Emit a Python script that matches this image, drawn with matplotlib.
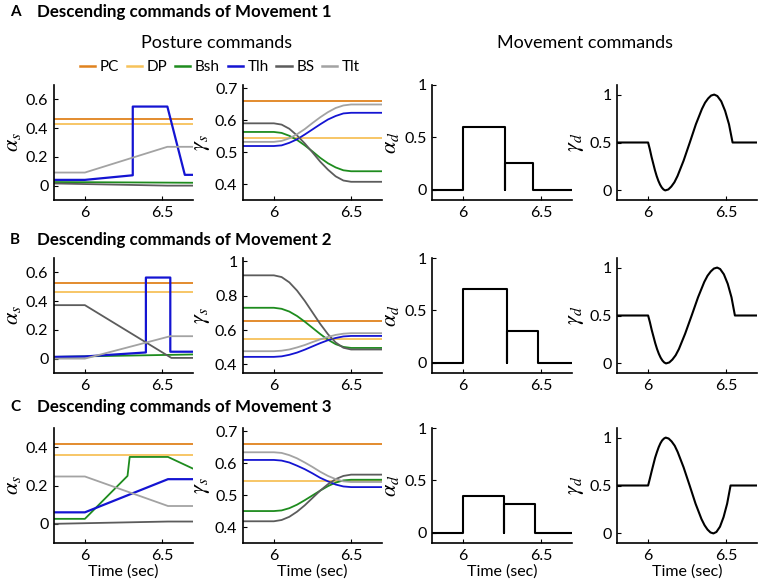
import matplotlib.pyplot as plt
from matplotlib.ticker import FuncFormatter
from matplotlib.lines import Line2D

plt.rcParams['font.family'] = ['Lato', 'DejaVu Sans']
plt.rcParams['mathtext.fontset'] = 'stix'

NAMES = ['PC', 'DP', 'Bsh', 'Tlh', 'BS', 'Tlt']
COLORS = {'PC': '#e0821e', 'DP': '#f7c25a', 'Bsh': '#1e8c1e',
          'Tlh': '#1414d2', 'BS': '#5c5c5c', 'Tlt': '#a3a3a3'}

TITLES = ['Descending commands of Movement 1',
          'Descending commands of Movement 2',
          'Descending commands of Movement 3']
PANEL_LETTERS = ['A', 'B', 'C']

T_EDGE = [5.8, 6.7]

# ---- alpha_s (posture, static) ----
M1_AS = {
    'PC': (T_EDGE, [0.465, 0.465]),
    'DP': (T_EDGE, [0.428, 0.428]),
    'Bsh': (T_EDGE, [0.025, 0.02]),
    'Tlh': ([5.8, 6.0, 6.31, 6.31, 6.534, 6.647, 6.7], [0.04, 0.04, 0.072, 0.55, 0.55, 0.075, 0.075]),
    'BS': ([5.8, 6.534, 6.7], [0.015, 0.0, 0.0]),
    'Tlt': ([5.8, 6.0, 6.534, 6.7], [0.091, 0.091, 0.27, 0.27]),
}
M2_AS = {
    'PC': (T_EDGE, [0.528, 0.528]),
    'DP': (T_EDGE, [0.461, 0.461]),
    'Bsh': (T_EDGE, [0.012, 0.029]),
    'Tlh': ([5.8, 6.0, 6.395, 6.395, 6.553, 6.553, 6.7], [0.012, 0.015, 0.043, 0.564, 0.564, 0.048, 0.048]),
    'BS': ([5.8, 6.0, 6.56, 6.7], [0.372, 0.372, 0.005, 0.005]),
    'Tlt': ([5.8, 6.0, 6.553, 6.7], [0.0, 0.0, 0.156, 0.156]),
}
M3_AS = {
    'PC': (T_EDGE, [0.417, 0.417]),
    'DP': (T_EDGE, [0.357, 0.357]),
    'Bsh': ([5.8, 6.0, 6.276, 6.29, 6.538, 6.7], [0.026, 0.026, 0.25, 0.349, 0.349, 0.288]),
    'Tlh': ([5.8, 6.0, 6.538, 6.7], [0.06, 0.06, 0.233, 0.233]),
    'BS': ([5.8, 6.538, 6.7], [0.0, 0.012, 0.012]),
    'Tlt': ([5.8, 6.0, 6.538, 6.7], [0.247, 0.247, 0.093, 0.093]),
}

# ---- gamma_s (posture, dynamic) ----
GS_T = [5.8, 6.0, 6.05, 6.1, 6.15, 6.2, 6.25, 6.3, 6.35, 6.4, 6.45, 6.5, 6.7]
M1_GS = {
    'PC': (T_EDGE, [0.66, 0.66]),
    'DP': (T_EDGE, [0.543, 0.543]),
    'Bsh': (GS_T, [0.563, 0.563, 0.560, 0.551, 0.538, 0.521, 0.502, 0.482, 0.465, 0.452, 0.443, 0.44, 0.44]),
    'Tlh': (GS_T, [0.519, 0.519, 0.521, 0.529, 0.540, 0.555, 0.571, 0.587, 0.602, 0.613, 0.621, 0.623, 0.623]),
    'BS': (GS_T, [0.59, 0.59, 0.586, 0.573, 0.552, 0.527, 0.499, 0.470, 0.445, 0.424, 0.411, 0.407, 0.407]),
    'Tlt': (GS_T, [0.532, 0.532, 0.535, 0.543, 0.556, 0.572, 0.591, 0.609, 0.625, 0.638, 0.646, 0.649, 0.649]),
}
M2_GS = {
    'PC': (T_EDGE, [0.652, 0.652]),
    'DP': (T_EDGE, [0.547, 0.547]),
    'Bsh': (GS_T, [0.73, 0.73, 0.724, 0.708, 0.682, 0.649, 0.613, 0.577, 0.544, 0.518, 0.502, 0.496, 0.496]),
    'Tlh': (GS_T, [0.444, 0.444, 0.447, 0.456, 0.469, 0.486, 0.505, 0.524, 0.541, 0.554, 0.563, 0.566, 0.566]),
    'BS': (GS_T, [0.919, 0.919, 0.909, 0.878, 0.830, 0.770, 0.703, 0.636, 0.576, 0.528, 0.497, 0.487, 0.487]),
    'Tlt': (GS_T, [0.477, 0.477, 0.480, 0.487, 0.499, 0.513, 0.530, 0.546, 0.560, 0.572, 0.579, 0.582, 0.582]),
}
M3_GS = {
    'PC': (T_EDGE, [0.659, 0.659]),
    'DP': (T_EDGE, [0.543, 0.543]),
    'Bsh': (GS_T, [0.45, 0.45, 0.452, 0.459, 0.470, 0.484, 0.499, 0.514, 0.528, 0.539, 0.546, 0.548, 0.548]),
    'Tlh': (GS_T, [0.61, 0.61, 0.608, 0.602, 0.592, 0.581, 0.568, 0.554, 0.543, 0.533, 0.527, 0.525, 0.525]),
    'BS': (GS_T, [0.418, 0.418, 0.422, 0.432, 0.448, 0.468, 0.491, 0.514, 0.534, 0.550, 0.560, 0.564, 0.564]),
    'Tlt': (GS_T, [0.634, 0.634, 0.632, 0.625, 0.615, 0.602, 0.588, 0.573, 0.560, 0.550, 0.543, 0.541, 0.541]),
}

# ---- alpha_d (movement, static) ----
M1_AD_T = [5.8, 6.0, 6.0, 6.27, 6.27, 6.27, 6.45, 6.45, 6.7]
M1_AD_V = [0, 0, 0.6, 0.6, 0, 0.255, 0.255, 0, 0]
M2_AD_T = [5.8, 6.0, 6.0, 6.28, 6.28, 6.28, 6.48, 6.48, 6.7]
M2_AD_V = [0, 0, 0.7, 0.7, 0, 0.305, 0.305, 0, 0]
M3_AD_T = [5.8, 6.0, 6.0, 6.265, 6.265, 6.265, 6.46, 6.46, 6.7]
M3_AD_V = [0, 0, 0.35, 0.35, 0, 0.27, 0.27, 0, 0]

# ---- gamma_d (movement, dynamic) ----
M1_GD_T = [5.8, 6.0, 6.011, 6.022, 6.033, 6.044, 6.055, 6.066, 6.077, 6.088, 6.099, 6.11,
           6.13, 6.149, 6.169, 6.189, 6.228, 6.268, 6.307, 6.346, 6.366, 6.386, 6.405, 6.425,
           6.445, 6.47, 6.495, 6.52, 6.543, 6.7]
M1_GD_V = [0.5, 0.5, 0.43, 0.35, 0.28, 0.21, 0.15, 0.10, 0.06, 0.03, 0.01, 0.0,
           0.01, 0.04, 0.085, 0.15, 0.31, 0.5, 0.69, 0.85, 0.915, 0.96, 0.99, 1.0,
           0.985, 0.93, 0.83, 0.69, 0.5, 0.5]
M2_GD_T = [5.8, 6.0, 6.0115, 6.023, 6.0345, 6.046, 6.0575, 6.069, 6.0805, 6.092, 6.1035, 6.115,
           6.136, 6.156, 6.177, 6.198, 6.238, 6.28, 6.321, 6.361, 6.382, 6.403, 6.423, 6.444,
           6.463, 6.487, 6.512, 6.536, 6.558, 6.7]
M2_GD_V = [0.5, 0.5, 0.43, 0.35, 0.28, 0.21, 0.15, 0.10, 0.06, 0.03, 0.01, 0.0,
           0.01, 0.04, 0.085, 0.15, 0.31, 0.5, 0.69, 0.85, 0.915, 0.96, 0.99, 1.0,
           0.985, 0.93, 0.83, 0.69, 0.5, 0.5]
M3_GD_T = [5.8, 6.0, 6.011, 6.023, 6.034, 6.045, 6.057, 6.068, 6.079, 6.09, 6.102, 6.113,
           6.132, 6.151, 6.171, 6.19, 6.228, 6.267, 6.305, 6.343, 6.363, 6.382, 6.401, 6.42,
           6.439, 6.462, 6.485, 6.508, 6.53, 6.7]
M3_GD_V = [0.5, 0.5, 0.57, 0.65, 0.72, 0.79, 0.85, 0.90, 0.94, 0.97, 0.99, 1.0,
           0.99, 0.96, 0.915, 0.85, 0.69, 0.5, 0.31, 0.15, 0.085, 0.04, 0.01, 0.0,
           0.015, 0.07, 0.17, 0.31, 0.5, 0.5]

AS_DATA = [M1_AS, M2_AS, M3_AS]
GS_DATA = [M1_GS, M2_GS, M3_GS]
AD_DATA = [(M1_AD_T, M1_AD_V), (M2_AD_T, M2_AD_V), (M3_AD_T, M3_AD_V)]
GD_DATA = [(M1_GD_T, M1_GD_V), (M2_GD_T, M2_GD_V), (M3_GD_T, M3_GD_V)]

AS_YLIM = [(-0.1, 0.7), (-0.1, 0.7), (-0.1, 0.5)]
AS_TICKS = [[0, 0.2, 0.4, 0.6], [0, 0.2, 0.4, 0.6], [0, 0.2, 0.4]]
GS_YLIM = [(0.35, 0.71), (0.35, 1.02), (0.35, 0.71)]
GS_TICKS = [[0.4, 0.5, 0.6, 0.7], [0.4, 0.6, 0.8, 1], [0.4, 0.5, 0.6, 0.7]]

W, H = 759, 587
fig = plt.figure(figsize=(W / 100, H / 100), dpi=100)

col_x = [(54, 193), (243, 382), (432, 572), (617, 757)]
row_y = [(85, 200), (258, 373), (428, 543)]
title_y = [12, 240, 407]

fmt = FuncFormatter(lambda v, p: '%g' % v)


def style(ax, ylim, yticks, ylabel, last_row):
    ax.set_xlim(5.8, 6.7)
    ax.set_ylim(*ylim)
    ax.set_xticks([6, 6.5])
    ax.set_yticks(yticks)
    ax.xaxis.set_major_formatter(fmt)
    ax.yaxis.set_major_formatter(fmt)
    ax.spines['top'].set_visible(False)
    ax.spines['right'].set_visible(False)
    for s in ['left', 'bottom']:
        ax.spines[s].set_linewidth(1.2)
    ax.tick_params(direction='in', length=3, width=0.8, labelsize=11.5, pad=4)
    ax.set_ylabel(ylabel, fontsize=16, labelpad=2)
    if last_row:
        ax.set_xlabel('Time (sec)', fontsize=11.5, labelpad=1)


for r in range(3):
    y0, y1 = row_y[r]
    axes = []
    for c in range(4):
        x0, x1 = col_x[c]
        axes.append(fig.add_axes([x0 / W, 1 - y1 / H, (x1 - x0) / W, (y1 - y0) / H]))
    ax_as, ax_gs, ax_ad, ax_gd = axes

    for name in NAMES:
        t, v = AS_DATA[r][name]
        ax_as.plot(t, v, color=COLORS[name], lw=1.6 if name == 'Tlh' else 1.3, label=name)
        t, v = GS_DATA[r][name]
        ax_gs.plot(t, v, color=COLORS[name], lw=1.3, label=name)
    ax_ad.plot(*AD_DATA[r], color='black', lw=1.5)
    ax_gd.plot(*GD_DATA[r], color='black', lw=1.5)

    last = r == 2
    style(ax_as, AS_YLIM[r], AS_TICKS[r], r'$\alpha_s$', last)
    style(ax_gs, GS_YLIM[r], GS_TICKS[r], r'$\gamma_s$', last)
    style(ax_ad, (-0.1, 1.0), [0, 0.5, 1], r'$\alpha_d$', last)
    style(ax_gd, (-0.1, 1.1), [0, 0.5, 1], r'$\gamma_d$', last)

    fig.text(10 / W, 1 - title_y[r] / H, PANEL_LETTERS[r], fontsize=11, fontweight='bold', va='center')
    fig.text(37 / W, 1 - title_y[r] / H, TITLES[r], fontsize=12.2, fontweight='bold', va='center')

fig.text(217 / W, 1 - 43 / H, 'Posture commands', fontsize=13, ha='center', va='center')
fig.text(585 / W, 1 - 43 / H, 'Movement commands', fontsize=13, ha='center', va='center')

handles = [Line2D([], [], color=COLORS[n], lw=1.8) for n in NAMES]
fig.legend(handles, NAMES, loc='center', bbox_to_anchor=(220 / W, 1 - 67 / H), ncol=6,
           frameon=False, fontsize=11, handlelength=1.0, handletextpad=0.3, columnspacing=0.5)

fig.savefig('out.png', dpi=100)
